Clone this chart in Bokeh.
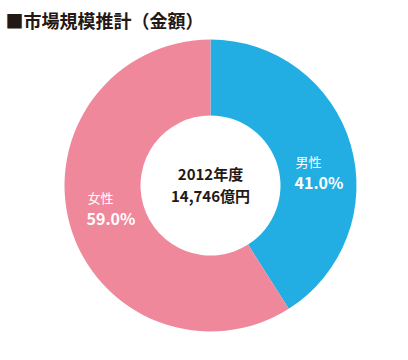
from bokeh.plotting import figure
from bokeh.models import Range1d, ColumnDataSource
from bokeh.core.properties import value
from bokeh.embed import file_html
from bokeh.resources import INLINE
import math

# data
categories = ["男性", "女性"]
shares = [41.0, 59.0]
colors = ["#22AEE3", "#F0889C"]
title_text = "■市場規模推計（金額）"
center_lines = ["2012年度", "14,746億円"]

W, H = 400, 352
p = figure(width=W, height=H, output_backend="svg", toolbar_location=None,
           x_range=Range1d(0, W), y_range=Range1d(0, H), min_border=0)
p.axis.visible = False
p.grid.visible = False
p.outline_line_color = None
p.background_fill_color = "white"

def X(px):
    return px
def Y(py):
    return H - py

cx, cy = X(210), Y(185)
R_out, R_in = 146, 70

# wedges clockwise from 12 o'clock
total = sum(shares)
starts, ends = [], []
acc = 0.0
for s in shares:
    a0 = math.pi / 2 - 2 * math.pi * acc / total
    a1 = math.pi / 2 - 2 * math.pi * (acc + s) / total
    starts.append(a1)
    ends.append(a0)
    acc += s

src = ColumnDataSource(dict(x=[cx] * len(shares), y=[cy] * len(shares),
                            start=starts, end=ends, color=colors))
p.annular_wedge(x="x", y="y", inner_radius=R_in, outer_radius=R_out,
                start_angle="start", end_angle="end", fill_color="color",
                line_color=None, source=src)

font = value("Noto Sans CJK JP")

# title
p.text(x=[X(5)], y=[Y(19)], text=[title_text], text_font=font,
       text_font_size="18px", text_font_style="bold", text_color="#231815",
       text_align="left", text_baseline="middle")

# center texts
p.text(x=[X(210), X(210)], y=[Y(173), Y(195)], text=center_lines, text_font=font,
       text_font_size="15px", text_font_style="bold", text_color="#231815",
       text_align="center", text_baseline="middle")

# segment labels
pct = [f"{s:.1f}%" for s in shares]
p.text(x=[X(295), X(87)], y=[Y(161), Y(197)], text=categories, text_font=font,
       text_font_size="13px", text_color="white",
       text_align="left", text_baseline="middle")
p.text(x=[X(294), X(86)], y=[Y(181), Y(217)], text=pct, text_font=font,
       text_font_size="16px", text_font_style="bold", text_color="white",
       text_align="left", text_baseline="middle")

open("out.html", "w").write(file_html(p, INLINE))
